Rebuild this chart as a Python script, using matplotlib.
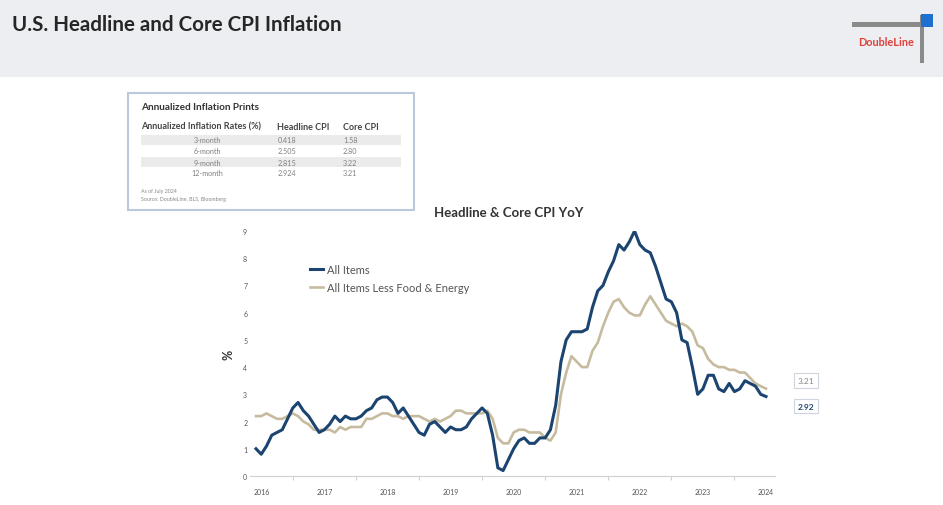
import matplotlib.pyplot as plt
import matplotlib.patches as mpatches
import numpy as np

plt.rcParams['font.family'] = ['Lato', 'DejaVu Sans']

W, H = 943, 506

# ---------------------------------------------------------------
# data: monthly YoY %, Jun 2016 .. Jul 2024
# ---------------------------------------------------------------
headline = [1.0, 0.8, 1.1, 1.5, 1.6, 1.7, 2.1,
            2.5, 2.7, 2.4, 2.2, 1.9, 1.6, 1.7, 1.9, 2.2, 2.0, 2.2, 2.1,
            2.1, 2.2, 2.4, 2.5, 2.8, 2.9, 2.9, 2.7, 2.3, 2.5, 2.2, 1.9,
            1.6, 1.5, 1.9, 2.0, 1.8, 1.6, 1.8, 1.7, 1.7, 1.8, 2.1, 2.3,
            2.5, 2.3, 1.5, 0.3, 0.2, 0.6, 1.0, 1.3, 1.4, 1.2, 1.2, 1.4,
            1.4, 1.7, 2.6, 4.2, 5.0, 5.3, 5.3, 5.3, 5.4, 6.2, 6.8, 7.0,
            7.5, 7.9, 8.5, 8.3, 8.6, 9.0, 8.5, 8.3, 8.2, 7.7, 7.1, 6.5,
            6.4, 6.0, 5.0, 4.9, 4.0, 3.0, 3.2, 3.7, 3.7, 3.2, 3.1, 3.4,
            3.1, 3.2, 3.5, 3.4, 3.3, 3.0, 2.92]

core = [2.2, 2.2, 2.3, 2.2, 2.1, 2.1, 2.2,
        2.3, 2.2, 2.0, 1.9, 1.7, 1.7, 1.7, 1.7, 1.6, 1.8, 1.7, 1.8,
        1.8, 1.8, 2.1, 2.1, 2.2, 2.3, 2.3, 2.2, 2.2, 2.1, 2.2, 2.2,
        2.2, 2.1, 2.0, 2.1, 2.0, 2.1, 2.2, 2.4, 2.4, 2.3, 2.3, 2.3,
        2.3, 2.4, 2.1, 1.4, 1.2, 1.2, 1.6, 1.7, 1.7, 1.6, 1.6, 1.6,
        1.4, 1.3, 1.6, 3.0, 3.8, 4.4, 4.2, 4.0, 4.0, 4.6, 4.9, 5.5,
        6.0, 6.4, 6.5, 6.2, 6.0, 5.9, 5.9, 6.3, 6.6, 6.3, 6.0, 5.7,
        5.6, 5.5, 5.6, 5.5, 5.3, 4.8, 4.7, 4.3, 4.1, 4.0, 4.0, 3.9,
        3.9, 3.8, 3.8, 3.6, 3.4, 3.3, 3.21]

years = [2016, 2017, 2018, 2019, 2020, 2021, 2022, 2023, 2024]

table_rows = ['3-month', '6-month', '9-month', '12-month']
table_headline = ['0.418', '2.505', '2.815', '2.924']
table_core = ['1.58', '2.80', '3.22', '3.21']

# month index 0 = Jun 2016
months = np.arange(len(headline))
jan_pos = [7 + 12 * i for i in range(8)]          # Jan 2017 .. Jan 2024
jul_pos = [1 + 12 * i for i in range(len(years))]  # Jul of each label year


def fx(x):
    return x / W


def fy(y):
    return 1 - y / H


fig = plt.figure(figsize=(W / 100, H / 100), dpi=100, facecolor='white')

# header band ------------------------------------------------------
fig.patches.append(mpatches.Rectangle((0, fy(78)), 1, 78 / H, transform=fig.transFigure,
                                      facecolor='#eceef1', edgecolor='none', zorder=0))
fig.text(fx(12), fy(25), 'U.S. Headline and Core CPI Inflation', fontsize=14.8, fontweight='bold',
         color='#262626', va='center', ha='left')

# logo
fig.patches.append(mpatches.Rectangle((fx(852), fy(28)), 73 / W, 5 / H, transform=fig.transFigure,
                                      facecolor='#8a8a8a', edgecolor='none'))
fig.patches.append(mpatches.Rectangle((fx(920), fy(64)), 4 / W, 48 / H, transform=fig.transFigure,
                                      facecolor='#8a8a8a', edgecolor='none'))
fig.patches.append(mpatches.Rectangle((fx(921), fy(28)), 12 / W, 13 / H, transform=fig.transFigure,
                                      facecolor='#1f6fd0', edgecolor='none'))
fig.text(fx(886), fy(43), 'DoubleLine', fontsize=7.8, color='#e0403c', ha='center', va='center',
         fontweight='bold')

# table box --------------------------------------------------------
fig.patches.append(mpatches.Rectangle((fx(128), fy(211)), 286 / W, 117 / H, transform=fig.transFigure,
                                      facecolor='white', edgecolor='#b9c8da', linewidth=1.5))
fig.text(fx(141), fy(107), 'Annualized Inflation Prints', fontsize=7.2, fontweight='bold',
         color='#333333', va='center')
fig.text(fx(141), fy(127), 'Annualized Inflation Rates (%)', fontsize=6.5, fontweight='bold',
         color='#444444', va='center')
fig.text(fx(277), fy(127), 'Headline CPI', fontsize=6.5, fontweight='bold', color='#444444', va='center')
fig.text(fx(343), fy(127), 'Core CPI', fontsize=6.5, fontweight='bold', color='#444444', va='center')
for i, (r, h, c) in enumerate(zip(table_rows, table_headline, table_core)):
    yy = 141 + 11 * i
    if i % 2 == 0:
        fig.patches.append(mpatches.Rectangle((fx(141), fy(yy + 5)), 260 / W, 10 / H,
                                              transform=fig.transFigure, facecolor='#ebebeb',
                                              edgecolor='none'))
    fig.text(fx(207), fy(yy), r, fontsize=5.2, color='#808080', ha='center', va='center')
    fig.text(fx(278), fy(yy), h, fontsize=5.2, color='#808080', ha='left', va='center')
    fig.text(fx(343), fy(yy), c, fontsize=5.2, color='#808080', ha='left', va='center')
fig.text(fx(141), fy(192), 'As of July 2024', fontsize=3.8, color='#888888', va='center')
fig.text(fx(141), fy(200), 'Source: DoubleLine, BLS, Bloomberg', fontsize=3.8, color='#888888', va='center')

# chart --------------------------------------------------------------
fig.text(fx(509), fy(213), 'Headline & Core CPI YoY', fontsize=9.5, fontweight='bold',
         color='#333333', ha='center', va='center')

ax = fig.add_axes([fx(250), fy(477), 525 / W, 245 / H])
ax.set_facecolor('none')
ax.plot(months, core, color='#c6bb9f', linewidth=1.9, label='All Items Less Food & Energy', zorder=2)
ax.plot(months, headline, color='#1c4470', linewidth=2.2, label='All Items', zorder=3)

ppm = 510 / (len(months) - 1)
ax.set_xlim(-6 / ppm, months[-1] + 9 / ppm)
ax.set_ylim(0, 9)

for s in ['top', 'right', 'left']:
    ax.spines[s].set_visible(False)
ax.spines['bottom'].set_color('#d0d0d0')

ax.set_yticks(range(10))
ax.tick_params(axis='y', length=0, labelsize=5, labelcolor='#555555', pad=2)
ax.set_xticks(jan_pos)
ax.set_xticklabels([])
ax.tick_params(axis='x', which='major', length=3, color='#d0d0d0')
ax.set_xticks(jul_pos, minor=True)
ax.set_xticklabels([str(y) for y in years], minor=True)
ax.tick_params(axis='x', which='minor', length=0, labelsize=5, labelcolor='#555555', pad=9)

ax.set_ylabel('%', fontsize=9, fontweight='bold', color='#333333', labelpad=6)

handles, labels = ax.get_legend_handles_labels()
ax.legend(handles[::-1], labels[::-1], loc='upper left', bbox_to_anchor=(0.095, 0.905), frameon=False,
          fontsize=8, labelcolor='#555555', handlelength=1.2, handletextpad=0.3, labelspacing=0.6)

# end-value callouts
ax.annotate('%.2f' % core[-1], xy=(months[-1], core[-1]), xytext=(29, 6), textcoords='offset points',
            fontsize=6, color='#888888', ha='center', va='center', annotation_clip=False,
            bbox=dict(boxstyle='square,pad=0.45', fc='white', ec='#cfd5dc', lw=0.8))
ax.annotate('%.2f' % headline[-1], xy=(months[-1], headline[-1]), xytext=(29, -7),
            textcoords='offset points', fontsize=6, fontweight='bold', color='#1c4470', ha='center',
            va='center', annotation_clip=False,
            bbox=dict(boxstyle='square,pad=0.45', fc='white', ec='#cfd5dc', lw=0.8))

fig.savefig('out.png', dpi=100)
